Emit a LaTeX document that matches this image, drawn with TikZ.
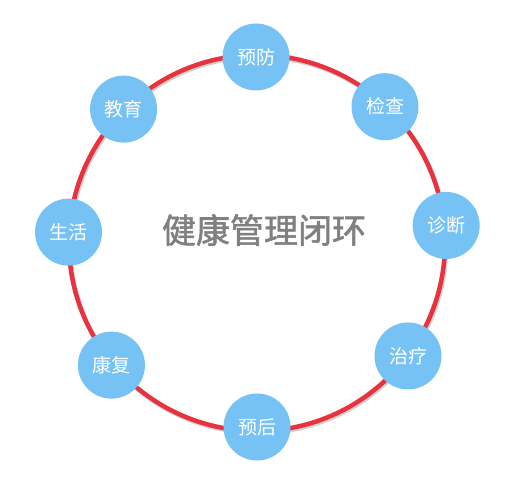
\documentclass[tikz,border=0pt]{standalone}
\usepackage{fontspec}
\newfontfamily\cjk{Noto Sans CJK SC}
\newfontfamily\cjktitle[FakeBold=1.6]{Noto Sans CJK SC}
\usepackage{tikz}
\usetikzlibrary{positioning}
\definecolor{ringred}{HTML}{E8333E}
\definecolor{stepblue}{HTML}{77C2F5}
\definecolor{titlegray}{HTML}{808080}

\begin{document}
\begin{tikzpicture}[
    x=1pt, y=1pt,
    font=\cjk,
    stage/.style={
        circle,
        fill=stepblue,
        draw=none,
        minimum size=67pt,
        inner sep=0pt,
        text=white,
        font=\cjk\fontsize{19}{19}\selectfont
    },
    ring/.style={
        draw=ringred,
        line width=4.5pt
    }
]
\useasboundingbox (-257,-233) rectangle (261,243);

% ring with a faint shadow
\node[circle, draw=black!18, line width=4.5pt, minimum size=376pt, inner sep=0pt] (shadow) at (1.2,-1.8) {};
\node[circle, ring, minimum size=376pt, inner sep=0pt] (loop) at (0,0) {};

% title
\node[text=titlegray, font=\cjktitle\fontsize{34}{34}\selectfont] (title) at (7,13) {健康管理闭环};

% stages around the loop
\node[stage] (yufang)   at (90.3:186)   {预防};
\node[stage] (jiancha)  at (46.8:187)   {检查};
\node[stage] (zhenduan) at (5.3:190)    {诊断};
\node[stage] (zhiliao)  at (-36.8:188.6) {治疗};
\node[stage] (yuhou)    at (-90:184)    {预后};
\node[stage] (kangfu)   at (-140:190)   {康复};
\node[stage] (shenghuo) at (176.7:188.8) {生活};
\node[stage] (jiaoyu)   at (134.9:189)  {教育};

\end{tikzpicture}
\end{document}
